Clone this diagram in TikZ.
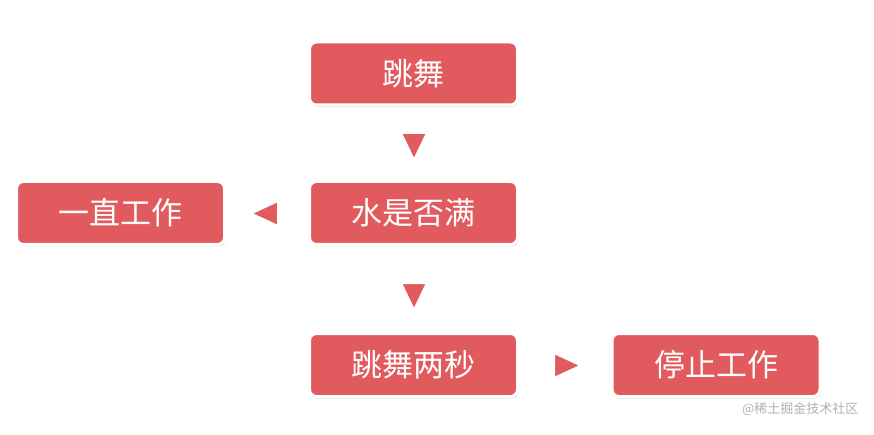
\documentclass[tikz,border=0pt]{standalone}
\usepackage{fontspec}
\newfontfamily\cjk{Noto Sans CJK SC}
\usetikzlibrary{shadows}
\definecolor{boxred}{HTML}{E05A5E}
\begin{document}
\begin{tikzpicture}[x=1pt,y=-1pt,
  box/.style={draw=white,line width=3pt,fill=boxred,rounded corners=7pt,minimum width=208pt,minimum height=63pt,text=white,font=\cjk\fontsize{31}{31}\selectfont,drop shadow={shadow xshift=1pt,shadow yshift=-2pt,opacity=0.25}},
  tri/.style={fill=boxred,draw=white,line width=2pt,line join=round}]
\useasboundingbox[fill=white] (0,0) rectangle (874,435);
\node[box] (a) at (413.5,73.5) {跳舞};
\node[box] (b) at (413.5,213) {水是否满};
\node[box] (c) at (120.5,213) {一直工作};
\node[box] (d) at (413.5,365) {跳舞两秒};
\node[box] (e) at (716,365) {停止工作};
\draw[tri] (401,133) -- (427,133) -- (414,160) -- cycle;
\draw[tri] (401,283) -- (427,283) -- (414,310) -- cycle;
\draw[tri] (278,201) -- (278,226) -- (251,213.5) -- cycle;
\draw[tri] (554,353) -- (554,378) -- (581,365.5) -- cycle;
\node[text=gray!60,font=\cjk\fontsize{13}{13}\selectfont,anchor=east] (w) at (862,409) {@稀土掘金技术社区};
\end{tikzpicture}
\end{document}
